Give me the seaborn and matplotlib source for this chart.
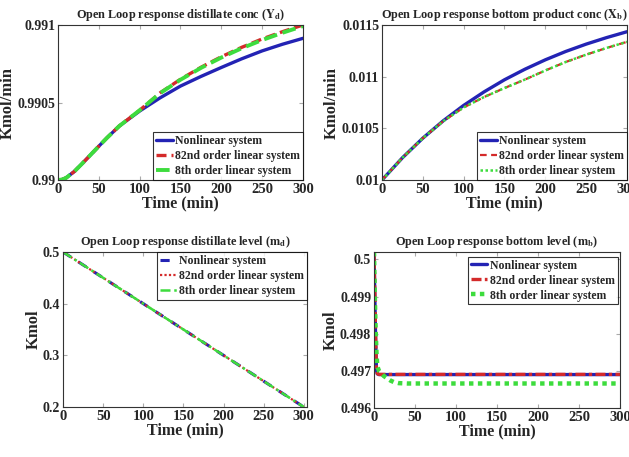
import numpy as np
import pandas as pd
import seaborn as sns
import matplotlib
matplotlib.use("Agg")
import matplotlib.pyplot as plt

sns.set_style("ticks")
plt.rcParams['font.family'] = ['Liberation Serif', 'DejaVu Serif']
plt.rcParams['font.weight'] = 'bold'
plt.rcParams['mathtext.fontset'] = 'stix'

# ---------------- data ----------------
labels = ["Nonlinear system", "82nd order linear system", "8th order linear system"]

# Panel 1: distillate conc Yd
t1 = [0, 5, 10, 20, 30, 40, 50, 60, 75, 100, 125, 150, 175, 200, 225, 250, 275, 300]
yd_nonlin = [0.99000, 0.990003, 0.990014, 0.990055, 0.990108, 0.990163, 0.990218, 0.990272,
             0.990348, 0.990445, 0.990530, 0.990606, 0.990668, 0.990726, 0.990782, 0.990833,
             0.990876, 0.990914]
yd_lin82 = [0.99000, 0.990003, 0.990014, 0.990055, 0.990108, 0.990163, 0.990218, 0.990272,
            0.990348, 0.990450, 0.990562, 0.990650, 0.990727, 0.990795, 0.990856, 0.990910,
            0.990957, 0.991000]
yd_lin8 = [0.99000, 0.990003, 0.990014, 0.990055, 0.990108, 0.990163, 0.990218, 0.990272,
           0.990348, 0.990450, 0.990560, 0.990647, 0.990723, 0.990790, 0.990850, 0.990903,
           0.990950, 0.990993]

# Panel 2: bottom product conc Xb
t2 = [0, 25, 50, 75, 100, 125, 150, 175, 200, 225, 250, 275, 300]
xb_nonlin = [0.01000, 0.010215, 0.010405, 0.010573, 0.010722, 0.010853, 0.010970, 0.011072,
             0.011163, 0.011244, 0.011315, 0.011378, 0.011435]
xb_lin82 = [0.01000, 0.010215, 0.010405, 0.010570, 0.010702, 0.010803, 0.010890, 0.010972,
            0.011060, 0.011142, 0.011213, 0.011278, 0.011337]
xb_lin8 = [0.01000, 0.010215, 0.010405, 0.010570, 0.010702, 0.010803, 0.010890, 0.010972,
           0.011060, 0.011142, 0.011213, 0.011278, 0.011337]

# Panel 3: distillate level md
t3 = [0, 50, 100, 150, 200, 250, 300]
md_nonlin = [0.5, 0.45, 0.4, 0.35, 0.3, 0.25, 0.2]
md_lin82 = [0.5, 0.45, 0.4, 0.35, 0.3, 0.25, 0.2]
md_lin8 = [0.5, 0.45, 0.4, 0.35, 0.3, 0.25, 0.2]

# Panel 4: bottom level mb
t4 = [0, 1, 2, 3, 4, 6, 9, 12, 16, 20, 24, 30, 40, 60, 100, 200, 300]
mb_nonlin = [0.5002, 0.4990, 0.4978, 0.49702, 0.496920, 0.496900, 0.496900, 0.496900, 0.496900,
             0.496900, 0.496900, 0.496900, 0.496900, 0.496900, 0.496900, 0.496900, 0.496900]
mb_lin82 = [0.5002, 0.4991, 0.4979, 0.49705, 0.496930, 0.496905, 0.496905, 0.496905, 0.496905,
            0.496905, 0.496905, 0.496905, 0.496905, 0.496905, 0.496905, 0.496905, 0.496905]
mb_lin8 = [0.5002, 0.4990, 0.4981, 0.49750, 0.49713, 0.49700, 0.49693, 0.49686, 0.49680,
           0.49674, 0.49670, 0.49667, 0.49666, 0.49666, 0.49666, 0.49666, 0.49666]

xticks = [0, 50, 100, 150, 200, 250, 300]
yt1 = [0.99, 0.9905, 0.991]; ytl1 = ["0.99", "0.9905", "0.991"]
yt2 = [0.01, 0.0105, 0.011, 0.0115]; ytl2 = ["0.01", "0.0105", "0.011", "0.0115"]
yt3 = [0.2, 0.3, 0.4, 0.5]; ytl3 = ["0.2", "0.3", "0.4", "0.5"]
yt4 = [0.496, 0.497, 0.498, 0.499, 0.5]; ytl4 = ["0.496", "0.497", "0.498", "0.499", "0.5"]

BLUE = "#2323b4"
RED = "#d42a2a"
GREEN = "#3ddc3d"

fig = plt.figure(figsize=(6.29, 4.57), dpi=100)
ax1 = fig.add_axes([0.0922, 0.6061, 0.3895, 0.3392])
ax2 = fig.add_axes([0.6073, 0.6061, 0.3895, 0.3392])
ax3 = fig.add_axes([0.1002, 0.1094, 0.3879, 0.3392])
ax4 = fig.add_axes([0.5946, 0.1072, 0.3911, 0.3414])


def style(ax, title, ylabel, yt, ytl, ylim, xlim):
    ax.set_xlim(*xlim)
    ax.set_ylim(*ylim)
    ax.set_xticks(xticks)
    ax.set_xticklabels([str(v) for v in xticks], fontsize=10.5, fontweight='bold')
    ax.set_yticks(yt)
    ax.set_yticklabels(ytl, fontsize=10, fontweight='bold')
    ax.set_title(title, fontsize=8.8, fontweight='bold', pad=5)
    ax.set_xlabel("Time (min)", fontsize=11.5, fontweight='bold', labelpad=0)
    ax.set_ylabel(ylabel, fontsize=12, fontweight='bold', labelpad=1)
    ax.tick_params(direction='in', top=True, right=True, length=3, color='#aaaaaa', pad=2)
    for s in ax.spines.values():
        s.set_color('#333333')
        s.set_linewidth(0.8)


def legend(ax, loc, anchor):
    leg = ax.legend(loc=loc, bbox_to_anchor=anchor, fontsize=8.5, frameon=True, fancybox=False,
                    edgecolor='black', handlelength=1.4, handletextpad=0.2, borderpad=0.25,
                    labelspacing=0.25, borderaxespad=0)
    leg.get_frame().set_linewidth(0.8)
    for txt in leg.get_texts():
        txt.set_fontweight('bold')


# Panel 1
sns.lineplot(x=t1, y=yd_nonlin, ax=ax1, color=BLUE, lw=2.4, label=labels[0])
sns.lineplot(x=t1, y=yd_lin82, ax=ax1, color=RED, lw=2.4, ls=(0, (3, 1.5)), label=labels[1])
sns.lineplot(x=t1, y=yd_lin8, ax=ax1, color=GREEN, lw=2.8, ls=(0, (3.5, 1.5)), label=labels[2])
style(ax1, r"Open Loop response distillate conc ($\mathbf{Y_d}$)", "Kmol/min", yt1, ytl1,
      (0.99, 0.991), (0, 300))
legend(ax1, 'lower right', (1, 0))

# Panel 2
sns.lineplot(x=t2, y=xb_nonlin, ax=ax2, color=BLUE, lw=2.4, label=labels[0])
sns.lineplot(x=t2, y=xb_lin82, ax=ax2, color=RED, lw=1.6, ls=(0, (3, 2)), label=labels[1])
sns.lineplot(x=t2, y=xb_lin8, ax=ax2, color=GREEN, lw=1.8, ls=(0, (1, 1)), label=labels[2])
style(ax2, r"Open Loop response bottom product conc ($\mathbf{X_b}$)", "Kmol/min", yt2, ytl2,
      (0.01, 0.0115), (0, 300))
legend(ax2, 'lower right', (1, 0))

# Panel 3
sns.lineplot(x=t3, y=md_nonlin, ax=ax3, color=BLUE, lw=2.2, ls=(0, (3, 3)), label=labels[0])
sns.lineplot(x=t3, y=md_lin82, ax=ax3, color=RED, lw=1.6, ls=(0, (1, 1)), label=labels[1])
sns.lineplot(x=t3, y=md_lin8, ax=ax3, color=GREEN, lw=1.8, ls=(0, (4, 1.5, 1, 1.5)), label=labels[2])
style(ax3, r"Open Loop response distillate level ($\mathbf{m_d}$)", "Kmol", yt3, ytl3,
      (0.2, 0.5), (0, 304))
legend(ax3, 'upper right', (1, 1))

# Panel 4
sns.lineplot(x=t4, y=mb_nonlin, ax=ax4, color=BLUE, lw=2.4, label=labels[0])
sns.lineplot(x=t4, y=mb_lin82, ax=ax4, color=RED, lw=2.4, ls=(0, (3, 1, 1, 1)), label=labels[1])
sns.lineplot(x=t4, y=mb_lin8, ax=ax4, color=GREEN, lw=3.2, ls=(0, (1, 1)), label=labels[2])
style(ax4, r"Open Loop response bottom level ($\mathbf{m_b}$)", "Kmol", yt4, ytl4,
      (0.496, 0.5002), (0, 300))
legend(ax4, 'upper right', (0.99, 0.97))

fig.savefig("out.png", dpi=100)
